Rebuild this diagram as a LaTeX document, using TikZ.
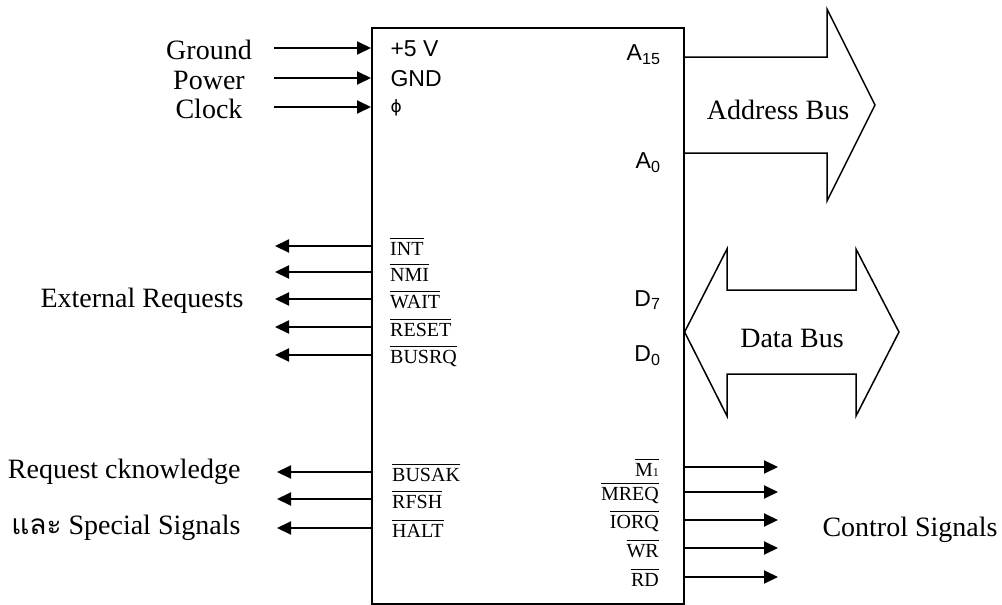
\documentclass[tikz,border=0pt]{standalone}
\usepackage{fontspec}
\usepackage{tikz}
\usetikzlibrary{arrows.meta,positioning}
\setmainfont{Liberation Serif}
\newfontfamily\arialfont{Liberation Sans}
\newfontfamily\dejavufont{DejaVu Sans}
\newfontfamily\thaifont[Script=Thai]{Loma}
% active-low signal name with a bar over it
\newcommand{\activelow}[1]{\setbox0\hbox{#1}\vbox{\hrule height 0.7pt width \wd0 \kern 3.5pt \box0}}
\tikzset{
    sigline/.style={line width=2pt, -{Triangle[length=14pt,width=13pt]}},
    buslabel/.style={font=\fontsize{28}{30}\selectfont},
    pinlabel/.style={font=\arialfont\fontsize{23}{25}\selectfont},
    barlabel/.style={font=\fontsize{20}{22}\selectfont, inner sep=1pt},
    busshape/.style={line width=1.5pt, line join=miter}
}

\begin{document}
\begin{tikzpicture}[x=1pt, y=-1pt]
    \useasboundingbox (0,0) rectangle (1002,605);

    % Chip body
    \node[draw, line width=1.6pt, minimum width=312pt, minimum height=576pt,
          anchor=north west, inner sep=0pt] (cpu) at (371,27) {};

    % Supply and clock inputs
    \foreach \y/\txt/\pin in {48/Ground/{+5 V}, 78/Power/GND, 107/Clock/{{\dejavufont\fontsize{17}{19}\selectfont ϕ}}} {
        \coordinate (in\y) at (274,\y);
        \draw[sigline] (in\y) -- (in\y -| cpu.west);
        \node[buslabel] (name\y) at (209,\y+2) {\txt};
        \node[pinlabel, anchor=west] (pin\y) at (387,\y+1) {\pin};
    }

    % External requests
    \foreach \y/\txt in {246/INT, 272/NMI, 299/WAIT, 327/RESET, 355/BUSRQ} {
        \coordinate (req\y) at (275,\y);
        \draw[sigline] (req\y -| cpu.west) -- (req\y);
        \node[barlabel, anchor=west] (bar\y) at (389,\y+1) {\activelow{\txt}};
    }
    \node[buslabel, anchor=east] (extreq) at (247,301) {External Requests};

    % Acknowledge and special signals
    \foreach \y/\txt in {472/BUSAK, 499/RFSH, 528/HALT} {
        \coordinate (ack\y) at (277,\y);
        \draw[sigline] (ack\y -| cpu.west) -- (ack\y);
        \node[barlabel, anchor=west] (bar\y) at (391,\y+1) {\activelow{\txt}};
    }
    \node[buslabel, anchor=east] (reqack) at (244,472) {Request cknowledge};
    \node[buslabel, anchor=east] (special) at (244,528) {{\thaifont และ} Special Signals};

    % Control signals
    \foreach \y/\txt in {467/{M{\fontsize{12}{12}\selectfont 1}}, 492/MREQ, 520/IORQ, 548/WR, 577/RD} {
        \coordinate (ctl\y) at (778,\y);
        \draw[sigline] (ctl\y -| cpu.east) -- (ctl\y);
        \node[barlabel, anchor=east] (bar\y) at (660,\y+1) {\activelow{\txt}};
    }
    \node[buslabel] (ctlsig) at (910,530) {Control Signals};

    % Bus pins
    \node[pinlabel, anchor=east] (a15) at (664,55) {A\textsubscript{15}};
    \node[pinlabel, anchor=east] (a0) at (664,163) {A\textsubscript{0}};
    \node[pinlabel, anchor=east] (d7) at (664,300) {D\textsubscript{7}};
    \node[pinlabel, anchor=east] (d0) at (664,356) {D\textsubscript{0}};

    % Address bus
    \draw[busshape] (cpu.east |- 0,57) -- (827,57) -- (827,9) -- (875,105)
        -- (827,201) -- (827,153) -- (cpu.east |- 0,153);
    \node[buslabel] (abus) at (778,110) {Address Bus};

    % Data bus
    \draw[busshape] (cpu.east |- 0,332) -- (727,249) -- (727,290) -- (856,290)
        -- (856,249) -- (899,332) -- (856,416) -- (856,374) -- (727,374)
        -- (727,416) -- cycle;
    \node[buslabel] (dbus) at (792,338) {Data Bus};

\end{tikzpicture}
\end{document}
